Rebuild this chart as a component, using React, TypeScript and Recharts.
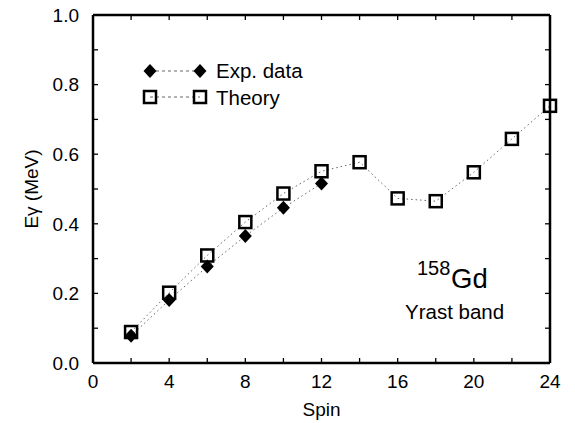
import React from 'react';
import { LineChart, Line, XAxis, YAxis, Legend, Customized } from 'recharts';

const spins = [2, 4, 6, 8, 10, 12, 14, 16, 18, 20, 22, 24];
const expValues = [0.078, 0.181, 0.277, 0.365, 0.446, 0.516];
const theoryValues = [0.089, 0.202, 0.309, 0.405, 0.487, 0.551, 0.577, 0.473, 0.465, 0.548, 0.644, 0.739];
const xTicks = [0, 2, 4, 6, 8, 10, 12, 14, 16, 18, 20, 22, 24];
const xTickLabels = [0, 4, 8, 12, 16, 20, 24];
const yTicks = [0, 0.1, 0.2, 0.3, 0.4, 0.5, 0.6, 0.7, 0.8, 0.9, 1.0];
const yTickLabels = [0, 0.2, 0.4, 0.6, 0.8, 1.0];

const data = spins.map((s, i) => ({
  spin: s,
  exp: i < expValues.length ? expValues[i] : null,
  theory: theoryValues[i],
}));

const FONT = '"Liberation Sans", Arial, Helvetica, sans-serif';
const LINE_COLOR = '#666';
const TICK_LEN = 5;
const X_MARGIN = 12;
const Y_MARGIN = 14;
const FONT_SIZE = 19;

const Diamond = ({ cx, cy }: { cx: number; cy: number }) => (
  <path d={`M${cx},${cy - 7} L${cx + 6.5},${cy} L${cx},${cy + 7} L${cx - 6.5},${cy} Z`} fill="#000" />
);
const Square = ({ cx, cy }: { cx: number; cy: number }) => (
  <rect x={cx - 6} y={cy - 6} width={12} height={12} fill="none" stroke="#000" strokeWidth={2.5} />
);

const renderDiamond = (p: any) => {
  if (p.cx == null || p.cy == null || p.value == null) return <g key={`d${p.index}`} />;
  return <Diamond key={`d${p.index}`} cx={p.cx} cy={p.cy} />;
};
const renderSquare = (p: any) => {
  if (p.cx == null || p.cy == null) return <g key={`s${p.index}`} />;
  return <Square key={`s${p.index}`} cx={p.cx} cy={p.cy} />;
};

const BottomTick = (p: any) => {
  const v = p.payload.value;
  const axisY = p.y - X_MARGIN;
  return (
    <g>
      <line x1={p.x} y1={axisY} x2={p.x} y2={axisY - TICK_LEN} stroke="#000" strokeWidth={1.3} />
      {xTickLabels.includes(v) && (
        <text x={p.x} y={p.y} dy="0.71em" textAnchor="middle" fontSize={FONT_SIZE} fontFamily={FONT} fill="#000">
          {v}
        </text>
      )}
    </g>
  );
};
const TopTick = (p: any) => (
  <line x1={p.x} y1={p.y} x2={p.x} y2={p.y + TICK_LEN} stroke="#000" strokeWidth={1.3} />
);
const LeftTick = (p: any) => {
  const v = p.payload.value;
  const axisX = p.x + Y_MARGIN;
  const show = yTickLabels.some((t) => Math.abs(t - v) < 1e-6);
  return (
    <g>
      <line x1={axisX} y1={p.y} x2={axisX + TICK_LEN} y2={p.y} stroke="#000" strokeWidth={1.3} />
      {show && (
        <text x={p.x} y={p.y} dy="0.355em" textAnchor="end" fontSize={FONT_SIZE} fontFamily={FONT} fill="#000">
          {v.toFixed(1)}
        </text>
      )}
    </g>
  );
};
const RightTick = (p: any) => (
  <line x1={p.x} y1={p.y} x2={p.x - TICK_LEN} y2={p.y} stroke="#000" strokeWidth={1.3} />
);

const LegendContent = () => (
  <svg width={200} height={56} style={{ overflow: 'visible', display: 'block' }}>
    <line x1={15} y1={13} x2={65} y2={13} stroke={LINE_COLOR} strokeWidth={1} strokeDasharray="3 3" />
    <Diamond cx={15} cy={13} />
    <Diamond cx={65} cy={13} />
    <text x={81} y={20} fontSize={20.5} fontFamily={FONT} fill="#000">Exp. data</text>
    <line x1={15} y1={39} x2={65} y2={39} stroke={LINE_COLOR} strokeWidth={1} strokeDasharray="3 3" />
    <Square cx={15} cy={39} />
    <Square cx={65} cy={39} />
    <text x={81} y={47} fontSize={20.5} fontFamily={FONT} fill="#000">Theory</text>
  </svg>
);

const Annotations = () => (
  <g fontFamily={FONT} fill="#000">
    <text x={417} y={275} fontSize={20}>158</text>
    <text x={451} y={288} fontSize={27.5}>Gd</text>
    <text x={405} y={319} fontSize={20.5}>Yrast band</text>
  </g>
);

const axisLine = { stroke: '#000', strokeWidth: 2.5 };

export default function App() {
  return (
    <div style={{ position: 'absolute', left: 0, top: 0 }}>
      <LineChart width={575} height={423} data={data} margin={{ top: 14, right: 24, bottom: 0, left: 0 }}>
        <XAxis
          dataKey="spin"
          type="number"
          domain={[0, 24]}
          ticks={xTicks}
          interval={0}
          tick={<BottomTick />}
          tickSize={0}
          tickMargin={X_MARGIN}
          stroke="#000"
          axisLine={axisLine}
          tickLine={false}
          height={60}
          label={{ value: 'Spin', position: 'insideBottom', offset: 7, fill: '#000', fontSize: FONT_SIZE, fontFamily: FONT }}
        />
        <XAxis
          xAxisId="top"
          dataKey="spin"
          type="number"
          orientation="top"
          domain={[0, 24]}
          ticks={xTicks}
          interval={0}
          tick={<TopTick />}
          tickSize={0}
          tickMargin={0}
          stroke="#000"
          axisLine={axisLine}
          tickLine={false}
          height={1}
        />
        <YAxis
          type="number"
          domain={[0, 1]}
          ticks={yTicks}
          interval={0}
          tick={<LeftTick />}
          tickSize={0}
          tickMargin={Y_MARGIN}
          stroke="#000"
          axisLine={axisLine}
          tickLine={false}
          width={93}
          label={{
            value: 'Eγ (MeV)',
            angle: -90,
            position: 'insideLeft',
            offset: 31,
            fill: '#000',
            fontSize: FONT_SIZE,
            fontFamily: FONT,
            style: { textAnchor: 'middle' },
          }}
        />
        <YAxis
          yAxisId="right"
          type="number"
          orientation="right"
          domain={[0, 1]}
          ticks={yTicks}
          interval={0}
          tick={<RightTick />}
          tickSize={0}
          tickMargin={0}
          stroke="#000"
          axisLine={axisLine}
          tickLine={false}
          width={1}
        />
        <Legend
          layout="vertical"
          align="center"
          verticalAlign="middle"
          content={LegendContent}
          wrapperStyle={{ left: 135, top: 58, width: 200, height: 56 }}
        />
        <Line
          dataKey="theory"
          stroke={LINE_COLOR}
          strokeWidth={1}
          strokeDasharray="1.5 3"
          dot={renderSquare}
          activeDot={false}
          isAnimationActive={false}
        />
        <Line
          dataKey="exp"
          xAxisId="top"
          yAxisId="right"
          stroke={LINE_COLOR}
          strokeWidth={1}
          strokeDasharray="1.5 3"
          dot={renderDiamond}
          activeDot={false}
          isAnimationActive={false}
        />
        <Customized component={Annotations} />
      </LineChart>
    </div>
  );
}
